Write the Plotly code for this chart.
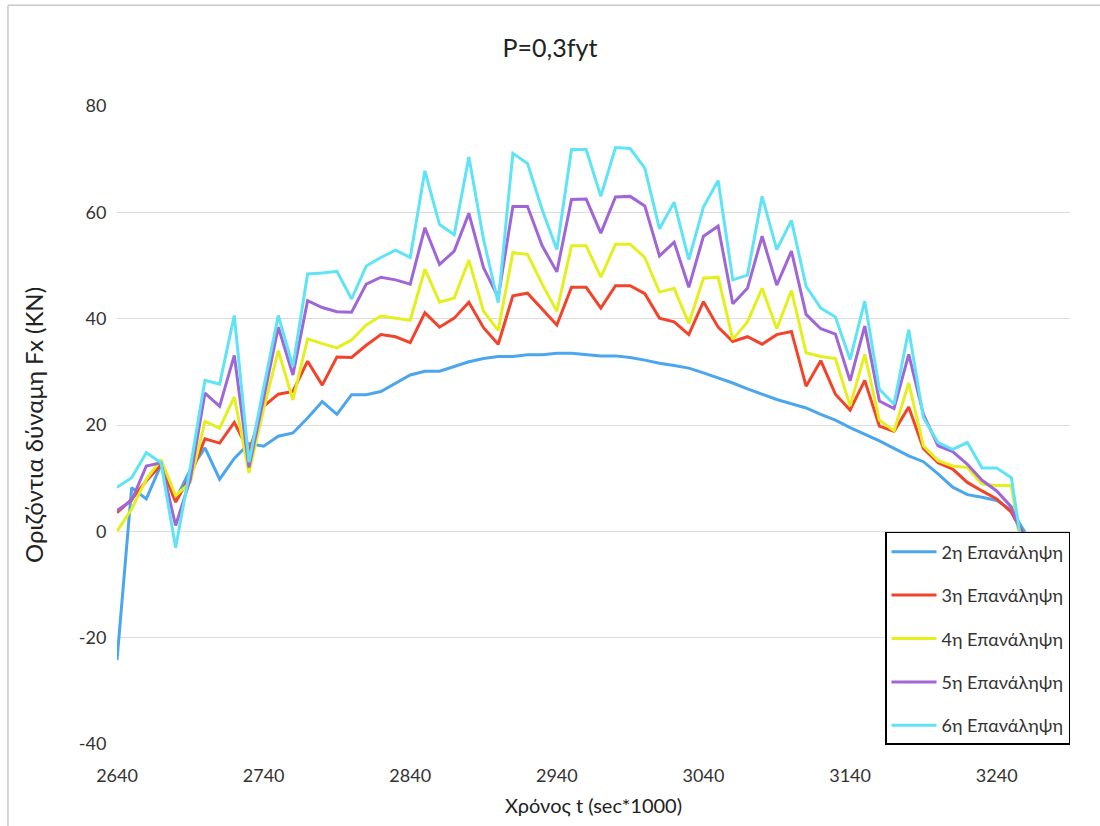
import plotly.graph_objects as go

# Time samples (sec*1000)
TIME = list(range(2640, 3270, 10))

SERIES_NAMES = ["2η Επανάληψη", "3η Επανάληψη", "4η Επανάληψη", "5η Επανάληψη", "6η Επανάληψη"]

REP2 = [-24.2, 8.2, 6.1, 12.5, 6.0, 11.6, 15.7, 9.8, 13.7, 16.5, 16.0, 17.9, 18.5, 21.3, 24.4, 22.0,
        25.7, 25.7, 26.3, 27.9, 29.4, 30.1, 30.1, 31.0, 31.9, 32.5, 32.9, 32.9, 33.2, 33.2, 33.5, 33.5,
        33.3, 33.0, 33.0, 32.7, 32.2, 31.6, 31.2, 30.7, 29.8, 28.9, 27.9, 26.8, 25.8, 24.8, 24.0, 23.2,
        22.0, 20.9, 19.5, 18.3, 17.0, 15.6, 14.2, 13.1, 10.8, 8.3, 6.9, 6.4, 5.8, 4.0, -0.5]
REP3 = [3.5, 6.0, 9.5, 12.5, 5.5, 10.4, 17.4, 16.6, 20.5, 15.0, 23.5, 25.8, 26.3, 32.0, 27.5, 32.8,
        32.7, 35.0, 37.0, 36.6, 35.5, 41.1, 38.4, 40.1, 43.1, 38.3, 35.2, 44.3, 44.8, 41.9, 38.8, 45.9,
        45.9, 42.0, 46.2, 46.2, 44.7, 40.1, 39.4, 37.0, 43.2, 38.4, 35.7, 36.6, 35.2, 37.0, 37.6, 27.3,
        32.1, 25.8, 22.8, 28.4, 19.8, 18.8, 23.4, 15.6, 12.9, 11.7, 9.2, 7.6, 6.1, 3.6, -1.5]
REP4 = [0.0, 4.2, 9.8, 13.5, 6.7, 9.2, 20.7, 19.4, 25.3, 11.0, 23.0, 34.0, 24.7, 36.2, 35.3, 34.5,
        36.0, 38.8, 40.5, 40.1, 39.7, 49.3, 43.1, 43.9, 51.0, 41.4, 37.8, 52.4, 52.1, 46.5, 41.4, 53.7,
        53.7, 47.8, 54.0, 54.0, 51.5, 45.0, 45.7, 39.1, 47.6, 47.8, 36.1, 39.4, 45.7, 38.1, 45.3, 33.6,
        32.9, 32.5, 23.6, 33.3, 20.9, 18.9, 27.9, 16.1, 13.3, 12.3, 12.0, 8.9, 8.6, 8.6, -9.0]
REP5 = [3.9, 5.8, 12.3, 12.9, 1.1, 9.8, 26.0, 23.5, 33.1, 12.0, 25.0, 38.4, 29.4, 43.4, 42.1, 41.3,
        41.2, 46.5, 47.8, 47.3, 46.5, 57.1, 50.2, 52.7, 59.8, 49.6, 44.0, 61.1, 61.1, 53.7, 48.8, 62.4,
        62.5, 56.1, 62.9, 63.0, 61.2, 51.8, 54.4, 45.9, 55.5, 57.4, 42.8, 45.7, 55.5, 46.3, 52.7, 40.8,
        38.1, 37.1, 28.3, 38.6, 24.5, 23.1, 33.3, 22.0, 16.1, 15.0, 12.6, 9.6, 7.6, 4.6, -3.0]
REP6 = [8.3, 10.1, 14.8, 12.9, -3.1, 12.0, 28.4, 27.7, 40.6, 13.0, 27.0, 40.6, 31.0, 48.4, 48.6, 48.9,
        43.7, 49.9, 51.5, 52.9, 51.5, 67.8, 57.7, 55.8, 70.4, 54.9, 43.0, 71.1, 69.2, 60.5, 53.0, 71.8,
        71.8, 63.0, 72.2, 72.0, 68.3, 56.9, 61.9, 51.1, 61.0, 66.0, 47.3, 48.2, 63.0, 53.0, 58.5, 46.1,
        42.0, 40.3, 32.3, 43.3, 26.7, 23.9, 37.9, 21.4, 16.7, 15.4, 16.7, 11.9, 11.9, 10.1, -8.0]

Y_TICKS = [-40, -20, 0, 20, 40, 60, 80]
Y_TICK_LABELS = ["-40", "-20", "0", "20", "40", "60", "80"]

COLORS = ["#4BA6EE", "#F2432B", "#E4F01E", "#A066D8", "#5FE3F6"]

FONT = "Lato, 'Open Sans', sans-serif"

fig = go.Figure()
for i, (name, vals, col) in enumerate(zip(SERIES_NAMES, [REP2, REP3, REP4, REP5, REP6], COLORS)):
    fig.add_trace(go.Scatter(
        x=TIME, y=vals, mode="lines", name=name, legendgroup=f"g{i}",
        line=dict(color=col, width=3),
    ))

fig.update_layout(
    width=1100, height=826,
    paper_bgcolor="white", plot_bgcolor="white",
    margin=dict(l=117, r=30, t=106, b=79),
    font=dict(family=FONT, color="#333333", size=18),
    title=dict(text="P=0,3fyt", x=0.5, xanchor="center", y=0.942, yanchor="middle",
               font=dict(size=25, color="#222222", family=FONT)),
    showlegend=True,
    legend=dict(
        x=1, xanchor="right", y=0.3323, yanchor="top",
        bgcolor="white", bordercolor="black", borderwidth=1.5,
        font=dict(size=18, color="#333333", family=FONT),
        traceorder="grouped", tracegroupgap=17,
        itemwidth=45, entrywidth=190, entrywidthmode="pixels",
    ),
    xaxis=dict(
        range=[2640, 3290], tick0=2640, dtick=100,
        showgrid=False, zeroline=False, showline=False,
        ticks="outside", ticklen=15, tickcolor="rgba(0,0,0,0)",
        tickfont=dict(size=18),
        title=dict(text="Χρόνος t (sec*1000)", font=dict(size=20, color="#222222"), standoff=14),
    ),
    yaxis=dict(
        range=[-40, 80], tickmode="array", tickvals=Y_TICKS, ticktext=Y_TICK_LABELS,
        showgrid=True, gridcolor="#dcdcdc", gridwidth=1,
        zeroline=False, showline=False,
        ticks="outside", ticklen=6, tickcolor="rgba(0,0,0,0)",
        tickfont=dict(size=18),
        title=dict(text="Οριζόντια δύναμη Fx (KN)", font=dict(size=24, color="#222222"), standoff=28),
    ),
    shapes=[
        dict(type="line", xref="paper", yref="paper", x0=-0.1144, x1=1.05, y0=1.158, y1=1.158,
             line=dict(color="#c8c8c8", width=1.5)),
        dict(type="line", xref="paper", yref="paper", x0=-0.1144, x1=-0.1144, y0=-0.2, y1=1.158,
             line=dict(color="#c8c8c8", width=1.5)),
    ],
)

fig.write_html("out.html")
